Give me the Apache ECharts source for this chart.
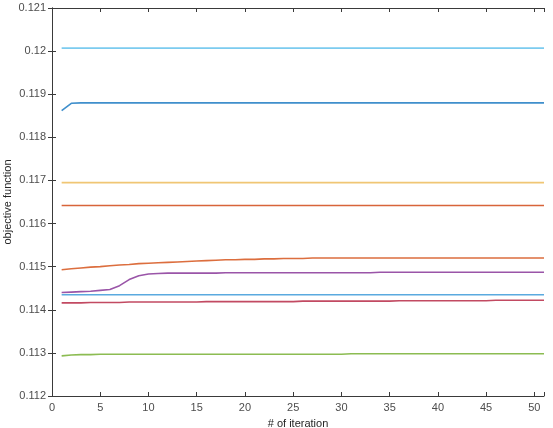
<!DOCTYPE html>
<html>
<head>
<meta charset="utf-8">
<script src="https://cdn.jsdelivr.net/npm/echarts@6/dist/echarts.min.js"></script>
<style>
  html, body { margin: 0; padding: 0; background: #fff; }
  #main { width: 553px; height: 428px; }
</style>
</head>
<body>
<div id="main"></div>
<script>
var iters = [1, 2, 3, 4, 5, 6, 7, 8, 9, 10,
  11, 12, 13, 14, 15, 16, 17, 18, 19, 20,
  21, 22, 23, 24, 25, 26, 27, 28, 29, 30,
  31, 32, 33, 34, 35, 36, 37, 38, 39, 40,
  41, 42, 43, 44, 45, 46, 47, 48, 49, 50,
  51];

var xTicks = [0, 5, 10, 15, 20, 25, 30, 35, 40, 45, 50];
var yTicks = [0.112, 0.113, 0.114, 0.115, 0.116, 0.117, 0.118, 0.119, 0.12, 0.121];

// top light blue line
var runA = [0.12007, 0.12007, 0.12007, 0.12007, 0.12007, 0.12007, 0.12007, 0.12007, 0.12007, 0.12007,
  0.12007, 0.12007, 0.12007, 0.12007, 0.12007, 0.12007, 0.12007, 0.12007, 0.12007, 0.12007,
  0.12007, 0.12007, 0.12007, 0.12007, 0.12007, 0.12007, 0.12007, 0.12007, 0.12007, 0.12007,
  0.12007, 0.12007, 0.12007, 0.12007, 0.12007, 0.12007, 0.12007, 0.12007, 0.12007, 0.12007,
  0.12007, 0.12007, 0.12007, 0.12007, 0.12007, 0.12007, 0.12007, 0.12007, 0.12007, 0.12007,
  0.12007];

var runB = [0.11862, 0.11879, 0.11880, 0.11880, 0.11880, 0.11880, 0.11880, 0.11880, 0.11880, 0.11880,
  0.11880, 0.11880, 0.11880, 0.11880, 0.11880, 0.11880, 0.11880, 0.11880, 0.11880, 0.11880,
  0.11880, 0.11880, 0.11880, 0.11880, 0.11880, 0.11880, 0.11880, 0.11880, 0.11880, 0.11880,
  0.11880, 0.11880, 0.11880, 0.11880, 0.11880, 0.11880, 0.11880, 0.11880, 0.11880, 0.11880,
  0.11880, 0.11880, 0.11880, 0.11880, 0.11880, 0.11880, 0.11880, 0.11880, 0.11880, 0.11880,
  0.11880];

var runC = [0.11695, 0.11695, 0.11695, 0.11695, 0.11695, 0.11695, 0.11695, 0.11695, 0.11695, 0.11695,
  0.11695, 0.11695, 0.11695, 0.11695, 0.11695, 0.11695, 0.11695, 0.11695, 0.11695, 0.11695,
  0.11695, 0.11695, 0.11695, 0.11695, 0.11695, 0.11695, 0.11695, 0.11695, 0.11695, 0.11695,
  0.11695, 0.11695, 0.11695, 0.11695, 0.11695, 0.11695, 0.11695, 0.11695, 0.11695, 0.11695,
  0.11695, 0.11695, 0.11695, 0.11695, 0.11695, 0.11695, 0.11695, 0.11695, 0.11695, 0.11695,
  0.11695];

var runD = [0.11642, 0.11642, 0.11642, 0.11642, 0.11642, 0.11642, 0.11642, 0.11642, 0.11642, 0.11642,
  0.11642, 0.11642, 0.11642, 0.11642, 0.11642, 0.11642, 0.11642, 0.11642, 0.11642, 0.11642,
  0.11642, 0.11642, 0.11642, 0.11642, 0.11642, 0.11642, 0.11642, 0.11642, 0.11642, 0.11642,
  0.11642, 0.11642, 0.11642, 0.11642, 0.11642, 0.11642, 0.11642, 0.11642, 0.11642, 0.11642,
  0.11642, 0.11642, 0.11642, 0.11642, 0.11642, 0.11642, 0.11642, 0.11642, 0.11642, 0.11642,
  0.11642];

var runE = [0.11493, 0.11495, 0.11497, 0.11499, 0.11500, 0.11502, 0.11504, 0.11505, 0.11507, 0.11508,
  0.11509, 0.11510, 0.11511, 0.11512, 0.11513, 0.11514, 0.11515, 0.11516, 0.11516, 0.11517,
  0.11517, 0.11518, 0.11518, 0.11519, 0.11519, 0.11519, 0.11520, 0.11520, 0.11520, 0.11520,
  0.11520, 0.11520, 0.11520, 0.11520, 0.11520, 0.11520, 0.11520, 0.11520, 0.11520, 0.11520,
  0.11520, 0.11520, 0.11520, 0.11520, 0.11520, 0.11520, 0.11520, 0.11520, 0.11520, 0.11520,
  0.11520];

var runF = [0.11440, 0.11441, 0.11442, 0.11443, 0.11445, 0.11447, 0.11456, 0.11470, 0.11479, 0.11483,
  0.11484, 0.11485, 0.11485, 0.11485, 0.11485, 0.11485, 0.11485, 0.11486, 0.11486, 0.11486,
  0.11486, 0.11486, 0.11486, 0.11486, 0.11486, 0.11486, 0.11486, 0.11486, 0.11486, 0.11486,
  0.11486, 0.11486, 0.11486, 0.11487, 0.11487, 0.11487, 0.11487, 0.11487, 0.11487, 0.11487,
  0.11487, 0.11487, 0.11487, 0.11487, 0.11487, 0.11487, 0.11487, 0.11487, 0.11487, 0.11487,
  0.11487];

var runG = [0.11435, 0.11435, 0.11435, 0.11435, 0.11435, 0.11435, 0.11435, 0.11435, 0.11435, 0.11435,
  0.11435, 0.11435, 0.11435, 0.11435, 0.11435, 0.11435, 0.11435, 0.11435, 0.11435, 0.11435,
  0.11435, 0.11435, 0.11435, 0.11435, 0.11435, 0.11435, 0.11435, 0.11435, 0.11435, 0.11435,
  0.11435, 0.11435, 0.11435, 0.11435, 0.11435, 0.11435, 0.11435, 0.11435, 0.11435, 0.11435,
  0.11435, 0.11435, 0.11435, 0.11435, 0.11435, 0.11435, 0.11435, 0.11435, 0.11435, 0.11435,
  0.11435];

var runH = [0.11416, 0.11416, 0.11416, 0.11417, 0.11417, 0.11417, 0.11417, 0.11418, 0.11418, 0.11418,
  0.11418, 0.11418, 0.11418, 0.11418, 0.11418, 0.11419, 0.11419, 0.11419, 0.11419, 0.11419,
  0.11419, 0.11419, 0.11419, 0.11419, 0.11419, 0.11420, 0.11420, 0.11420, 0.11420, 0.11420,
  0.11420, 0.11420, 0.11420, 0.11420, 0.11420, 0.11421, 0.11421, 0.11421, 0.11421, 0.11421,
  0.11421, 0.11421, 0.11421, 0.11421, 0.11421, 0.11422, 0.11422, 0.11422, 0.11422, 0.11422,
  0.11422];

var runI = [0.11293, 0.11295, 0.11296, 0.11296, 0.11297, 0.11297, 0.11297, 0.11297, 0.11297, 0.11297,
  0.11297, 0.11297, 0.11297, 0.11297, 0.11297, 0.11297, 0.11297, 0.11297, 0.11297, 0.11297,
  0.11297, 0.11297, 0.11297, 0.11297, 0.11297, 0.11297, 0.11297, 0.11297, 0.11297, 0.11297,
  0.11298, 0.11298, 0.11298, 0.11298, 0.11298, 0.11298, 0.11298, 0.11298, 0.11298, 0.11298,
  0.11298, 0.11298, 0.11298, 0.11298, 0.11298, 0.11298, 0.11298, 0.11298, 0.11298, 0.11298,
  0.11298];

var runs = [runB, runE, runC, runF, runI, runA, runH, runG, runD];
var colors = ['#3f8fcc', '#dc6e3e', '#f0c674', '#9a55a8', '#8cbc52', '#7ccbef', '#c24a62', '#5aaadf', '#d8643a'];

function pairs(ys) {
  var out = [];
  for (var i = 0; i < iters.length; i++) out.push([iters[i], ys[i]]);
  return out;
}

var myChart = echarts.init(document.getElementById('main'));

var labelFont = { fontFamily: 'Liberation Sans, Arial, sans-serif', fontSize: 11, color: '#4d4d4d' };
var nameFont = { fontFamily: 'Liberation Sans, Arial, sans-serif', fontSize: 11, color: '#262626' };
var lineStyle = { color: '#3a3a3a', width: 1 };

var option = {
  animation: false,
  grid: { left: 52, right: 9, top: 8, bottom: 32, outerBoundsMode: 'none' },
  xAxis: [
    {
      type: 'value', min: 0, max: 51, interval: 5, position: 'bottom',
      name: '# of iteration', nameLocation: 'middle', nameGap: 22, nameMoveOverlap: false,
      nameTextStyle: nameFont,
      axisLine: { show: true, lineStyle: lineStyle },
      axisTick: { show: true, inside: true, length: 4, lineStyle: lineStyle },
      splitLine: { show: false },
      axisLabel: Object.assign({ margin: 6, formatter: function (v) {
        return xTicks.indexOf(v) >= 0 ? String(v) : '';
      } }, labelFont)
    },
    {
      type: 'value', min: 0, max: 51, interval: 5, position: 'top',
      axisLine: { show: true, lineStyle: lineStyle },
      axisTick: { show: true, inside: true, length: 4, lineStyle: lineStyle },
      splitLine: { show: false },
      axisLabel: { show: false }
    }
  ],
  yAxis: [
    {
      type: 'value', min: 0.112, max: 0.121, interval: 0.001, position: 'left',
      name: 'objective function', nameLocation: 'middle', nameGap: 39, nameMoveOverlap: false,
      nameTextStyle: nameFont,
      axisLine: { show: true, lineStyle: lineStyle },
      axisTick: { show: true, inside: true, length: 4, lineStyle: lineStyle },
      splitLine: { show: false },
      axisLabel: Object.assign({ margin: 6, formatter: function (v) {
        var r = Math.round(v * 1000) / 1000;
        return yTicks.indexOf(r) >= 0 ? String(r) : '';
      } }, labelFont)
    },
    {
      type: 'value', min: 0.112, max: 0.121, interval: 0.001, position: 'right',
      axisLine: { show: true, lineStyle: lineStyle },
      axisTick: { show: true, inside: true, length: 4, lineStyle: lineStyle },
      splitLine: { show: false },
      axisLabel: { show: false }
    }
  ],
  series: runs.map(function (r, i) {
    return {
      type: 'line',
      data: pairs(r),
      showSymbol: false,
      smooth: false,
      lineStyle: { color: colors[i], width: 1.6 },
      itemStyle: { color: colors[i] }
    };
  })
};

myChart.setOption(option);
</script>
</body>
</html>
